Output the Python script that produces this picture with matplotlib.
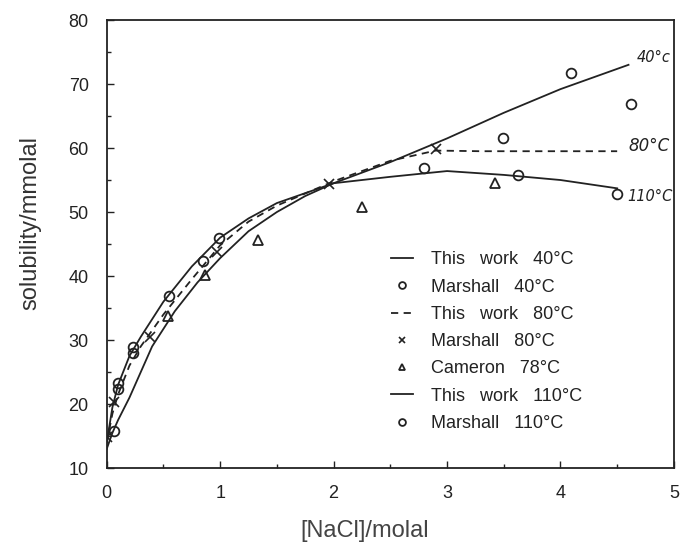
import matplotlib
matplotlib.use('Agg')
import matplotlib.pyplot as plt
from matplotlib.ticker import MultipleLocator

plt.rcParams['font.family'] = ['Liberation Sans', 'DejaVu Sans']

# fitted curves (this work)
x40 = [0, 0.05, 0.1, 0.2, 0.3, 0.5, 0.75, 1.0, 1.25, 1.5, 2.0, 2.5, 3.0, 3.5, 4.0, 4.6]
y40 = [14, 19.5, 23, 27.5, 30.5, 36, 41.5, 46, 49, 51.4, 54.5, 57.8, 61.5, 65.5, 69.2, 73]
x80 = [0, 0.05, 0.1, 0.2, 0.3, 0.5, 0.75, 1.0, 1.25, 1.5, 2.0, 2.5, 2.9, 3.3, 4.5]
y80 = [14, 18.5, 21.5, 26, 29, 34, 39.5, 44.8, 48.5, 51, 54.8, 58, 59.6, 59.5, 59.5]
x110 = [0, 0.05, 0.1, 0.2, 0.4, 0.6, 0.8, 1.0, 1.25, 1.5, 1.75, 2.0, 2.5, 3.0, 3.5, 4.0, 4.5]
y110 = [13, 15.5, 17.5, 21, 29, 34.5, 39, 42.8, 47, 50, 52.5, 54.5, 55.5, 56.4, 55.8, 55, 53.7]

# literature points
m40_x = [0.06, 0.1, 0.23, 0.55, 0.99, 3.49, 4.09, 4.62]
m40_y = [15.8, 23.3, 28.9, 36.8, 45.9, 61.6, 71.7, 66.9]
m80_x = [0, 0.06, 0.38, 0.97, 1.96, 2.9]
m80_y = [14.8, 20.3, 30.5, 43.8, 54.4, 59.8]
cam_x = [0.54, 0.87, 1.33, 2.25, 3.42]
cam_y = [33.8, 40.2, 45.6, 50.8, 54.5]
m110_x = [0.1, 0.23, 0.85, 2.8, 3.63, 4.5]
m110_y = [22.4, 28.0, 42.3, 56.9, 55.8, 52.8]

fig = plt.figure(figsize=(6.8, 5.47), dpi=100)
ax = fig.add_axes([0.157, 0.1444, 0.834, 0.819])

ink = '#222222'
sp = '   '
ax.plot(x40, y40, '-', color=ink, lw=1.3, label='This' + sp + 'work' + sp + '40°C')
ax.plot(m40_x, m40_y, 'o', mfc='none', mec=ink, mew=1.3, ms=7, ls='none', label='Marshall' + sp + '40°C')
ax.plot(x80, y80, '--', color=ink, lw=1.3, dashes=(4, 3), label='This' + sp + 'work' + sp + '80°C')
ax.plot(m80_x, m80_y, 'x', color=ink, mew=1.2, ms=7, ls='none', label='Marshall' + sp + '80°C')
ax.plot(cam_x, cam_y, '^', mfc='none', mec=ink, mew=1.3, ms=7, ls='none', label='Cameron' + sp + '78°C')
ax.plot(x110, y110, '-', color=ink, lw=1.3, label='This' + sp + 'work' + sp + '110°C')
ax.plot(m110_x, m110_y, 'o', mfc='none', mec=ink, mew=1.3, ms=7, ls='none', label='Marshall' + sp + '110°C')

# handwritten curve labels
ax.text(4.67, 74.2, '40°c', fontsize=10.5, style='italic', color=ink, va='center', family='DejaVu Sans')
ax.text(4.60, 60.3, '80°C', fontsize=12, style='italic', color=ink, va='center', family='DejaVu Sans')
ax.text(4.59, 52.4, '110°C', fontsize=10.5, style='italic', color=ink, va='center', family='DejaVu Sans')

ax.set_xlim(0, 5)
ax.set_ylim(10, 80)
ax.xaxis.set_major_locator(MultipleLocator(1))
ax.xaxis.set_minor_locator(MultipleLocator(0.5))
ax.yaxis.set_major_locator(MultipleLocator(10))
ax.yaxis.set_minor_locator(MultipleLocator(5))
ax.tick_params(which='both', direction='in', color=ink, labelsize=13, labelcolor=ink)
ax.tick_params(which='major', length=5, width=1)
ax.tick_params(which='minor', length=3, width=1)
ax.tick_params(axis='x', pad=12)
ax.tick_params(axis='y', pad=13)
for s in ax.spines.values():
    s.set_color(ink)
    s.set_linewidth(1.3)

ax.set_xlabel('[NaCl]/molal', fontsize=17, color='#444444')
ax.set_ylabel('solubility/mmolal', fontsize=17, color='#333333')
ax.xaxis.set_label_coords(0.455, -0.115)
ax.yaxis.set_label_coords(-0.115, 0.547)

ax.legend(loc='upper left', bbox_to_anchor=(0.473, 0.52), frameon=False, fontsize=13,
          handlelength=1.2, handletextpad=1.0, labelspacing=0.57, markerscale=0.7,
          labelcolor=ink)

fig.savefig('out.png', dpi=100)
